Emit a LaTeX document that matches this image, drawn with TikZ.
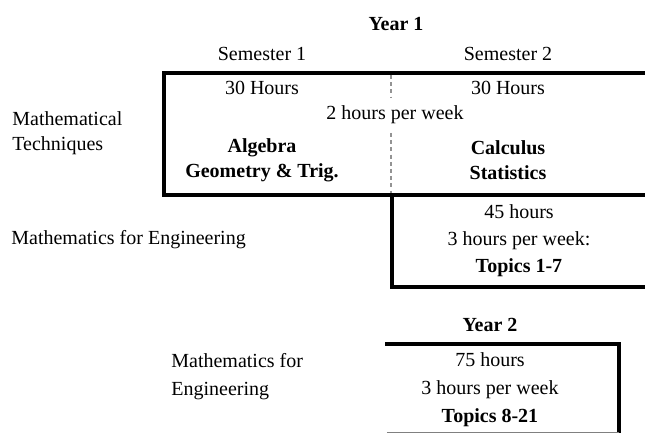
\documentclass[tikz,border=0pt]{standalone}
\usepackage{fontspec}
\setmainfont{Liberation Serif}
\begin{document}
\begin{tikzpicture}[x=0.5pt,y=-0.5pt,
  txt/.style={inner sep=0pt,font=\fontsize{10}{12}\selectfont},
  btxt/.style={txt,font=\fontsize{10}{12}\selectfont\bfseries},
  lbl/.style={txt,anchor=west,align=left},
  frame/.style={line width=1.9pt,line cap=rect},
  divider/.style={gray!85,line width=1.1pt,dash pattern=on 2pt off 1.6pt}]
\useasboundingbox (0,0) rectangle (645,433);
% Year 1 boxes
\draw[frame] (650,73) -- (164,73) -- (164,195) -- (650,195);
\draw[frame] (392,195) -- (392,287) -- (650,287);
\draw[divider] (391,75) -- (391,98);
\draw[divider] (391,133) -- (391,193);
% Year 2 box
\draw[frame] (387,344) -- (619,344) -- (619,440);
\draw[line width=0.6pt,gray] (387,432.5) -- (619,432.5);
% Texts
\node[btxt] (y1) at (396,24) {Year 1};
\node[txt] (s1) at (262,54) {Semester 1};
\node[txt] (s2) at (508,54) {Semester 2};
\node[txt] (h1) at (262,88) {30 Hours};
\node[txt] (h2) at (508,88) {30 Hours};
\node[txt] (pw) at (395,115) {2 hours per week};
\node[btxt,align=center] (t1) at (262,160) {Algebra\\[0.5pt]Geometry \& Trig.};
\node[btxt,align=center] (t2) at (508,160) {Calculus\\[0.5pt]Statistics};
\node[lbl] (mt) at (12,133) {Mathematical\\[0.5pt]Techniques};
\node[lbl] (me1) at (11,240) {Mathematics for Engineering};
\node[txt] (h3) at (519,212) {45 hours};
\node[txt] (pw3) at (519,241) {3 hours per week:};
\node[btxt] (tp1) at (519,268) {Topics 1-7};
\node[btxt] (y2) at (490,325) {Year 2};
\node[lbl] (me2) at (171,377) {Mathematics for\\[2pt]Engineering};
\node[txt] (h4) at (490,360) {75 hours};
\node[txt] (pw4) at (490,390) {3 hours per week};
\node[btxt] (tp2) at (490,418) {Topics 8-21};
\end{tikzpicture}
\end{document}
